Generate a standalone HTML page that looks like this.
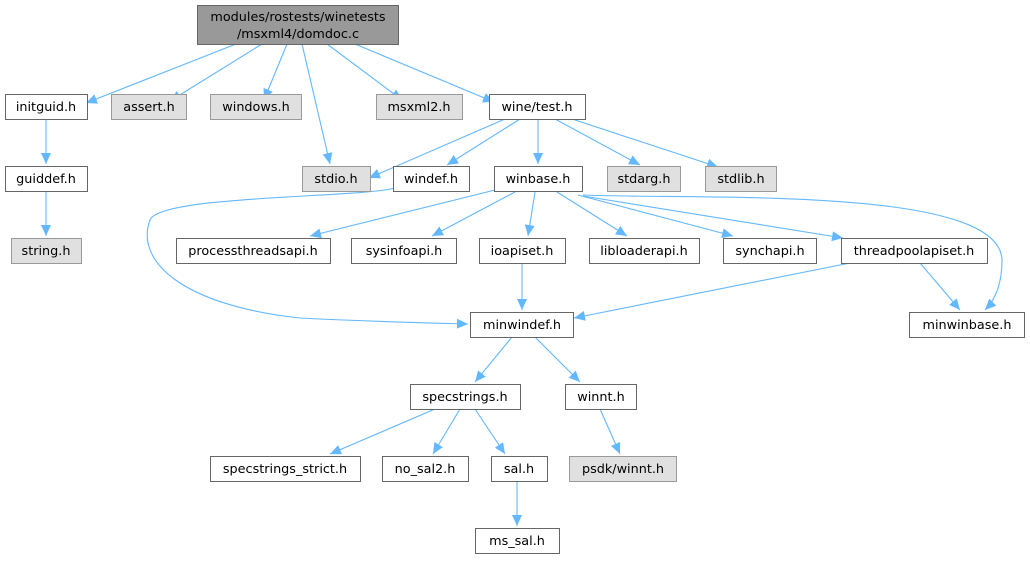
<!DOCTYPE html>
<html><head><meta charset="utf-8"><style>
body{margin:0;background:#fff}
svg{display:block}
text{font-family:"DejaVu Sans","Liberation Sans",sans-serif;font-size:12.8px;fill:#000;text-anchor:middle}
.n{fill:#fff;stroke:#666;stroke-width:1}
.g{fill:#e0e0e0;stroke:#999;stroke-width:1}
.e{fill:none;stroke:#63b8ff;stroke-width:1.1}
</style></head><body>
<svg width="1030" height="564" viewBox="0 0 1030 564">
<defs><marker id="a" markerUnits="userSpaceOnUse" markerWidth="12" markerHeight="10" refX="11" refY="5" orient="auto"><path d="M0,0 L11,5 L0,10 z" fill="#63b8ff"/></marker></defs>
<g marker-end="url(#a)">
<path class="e" d="M236,44 L86,103"/>
<path class="e" d="M262,44 L170,101"/>
<path class="e" d="M287,44 L264,100"/>
<path class="e" d="M302,44 L330,164"/>
<path class="e" d="M327,44 L402,100"/>
<path class="e" d="M355,44 L494,102"/>
<path class="e" d="M46,119 L46,164"/>
<path class="e" d="M46,191 L46,236"/>
<path class="e" d="M505,119 L369,178"/>
<path class="e" d="M520,119 L447,165"/>
<path class="e" d="M538,119 L538,164"/>
<path class="e" d="M555,119 L640,165"/>
<path class="e" d="M572,119 L718,167"/>
<path class="e" d="M395,188 C360,198 160,195 150,220 C135,260 180,305 300,318 C380,322 430,323 468,324"/>
<path class="e" d="M495,190 L310,236"/>
<path class="e" d="M515,192 L432,236"/>
<path class="e" d="M535,192 L528,236"/>
<path class="e" d="M557,192 L627,236"/>
<path class="e" d="M578,195 L733,236"/>
<path class="e" d="M583,196 L843,238"/>
<path class="e" d="M583,195 C700,200 1000,185 1002,260 C1002,285 995,300 985,310"/>
<path class="e" d="M522,263 L522,310"/>
<path class="e" d="M850,263 L574,318"/>
<path class="e" d="M920,263 L960,310"/>
<path class="e" d="M512,337 L475,382"/>
<path class="e" d="M535,337 L580,382"/>
<path class="e" d="M435,409 L330,454"/>
<path class="e" d="M460,409 L433,454"/>
<path class="e" d="M475,409 L505,454"/>
<path class="e" d="M600,409 L620,454"/>
<path class="e" d="M517,481 L517,526"/>
</g>
<rect x="197.5" y="5.5" width="201" height="39" fill="#999" stroke="#666"/>
<text x="298" y="21">modules/rostests/winetests</text>
<text x="298" y="38">/msxml4/domdoc.c</text>
<rect class="n" x="5.5" y="94.5" width="82" height="25"/><text x="46" y="111">initguid.h</text>
<rect class="g" x="111.5" y="94.5" width="75" height="25"/><text x="149" y="111">assert.h</text>
<rect class="g" x="210.5" y="94.5" width="91" height="25"/><text x="256" y="111">windows.h</text>
<rect class="g" x="376.5" y="94.5" width="86" height="25"/><text x="419" y="111">msxml2.h</text>
<rect class="n" x="489.5" y="94.5" width="96" height="25"/><text x="537" y="111">wine/test.h</text>
<rect class="n" x="5.5" y="166.5" width="82" height="25"/><text x="46" y="183">guiddef.h</text>
<rect class="g" x="11.5" y="238.5" width="70" height="25"/><text x="46" y="255">string.h</text>
<rect class="g" x="302.5" y="166.5" width="68" height="25"/><text x="336" y="183">stdio.h</text>
<rect class="n" x="393.5" y="166.5" width="76" height="25"/><text x="431" y="183">windef.h</text>
<rect class="n" x="494.5" y="166.5" width="88" height="25"/><text x="538" y="183">winbase.h</text>
<rect class="g" x="607.5" y="166.5" width="73" height="25"/><text x="644" y="183">stdarg.h</text>
<rect class="g" x="705.5" y="166.5" width="71" height="25"/><text x="741" y="183">stdlib.h</text>
<rect class="n" x="176.5" y="238.5" width="154" height="25"/><text x="253" y="255">processthreadsapi.h</text>
<rect class="n" x="351.5" y="238.5" width="105" height="25"/><text x="404" y="255">sysinfoapi.h</text>
<rect class="n" x="479.5" y="238.5" width="86" height="25"/><text x="522" y="255">ioapiset.h</text>
<rect class="n" x="589.5" y="238.5" width="110" height="25"/><text x="644" y="255">libloaderapi.h</text>
<rect class="n" x="723.5" y="238.5" width="93" height="25"/><text x="770" y="255">synchapi.h</text>
<rect class="n" x="841.5" y="238.5" width="146" height="25"/><text x="914" y="255">threadpoolapiset.h</text>
<rect class="n" x="470.5" y="312.5" width="103" height="25"/><text x="522" y="329">minwindef.h</text>
<rect class="n" x="909.5" y="312.5" width="115" height="25"/><text x="967" y="329">minwinbase.h</text>
<rect class="n" x="410.5" y="384.5" width="110" height="25"/><text x="465" y="401">specstrings.h</text>
<rect class="n" x="565.5" y="384.5" width="71" height="25"/><text x="601" y="401">winnt.h</text>
<rect class="n" x="210.5" y="456.5" width="150" height="25"/><text x="285" y="473">specstrings_strict.h</text>
<rect class="n" x="382.5" y="456.5" width="86" height="25"/><text x="425" y="473">no_sal2.h</text>
<rect class="n" x="491.5" y="456.5" width="56" height="25"/><text x="519" y="473">sal.h</text>
<rect class="g" x="569.5" y="456.5" width="107" height="25"/><text x="623" y="473">psdk/winnt.h</text>
<rect class="n" x="475.5" y="528.5" width="84" height="25"/><text x="517" y="545">ms_sal.h</text>
</svg>
</body></html>
